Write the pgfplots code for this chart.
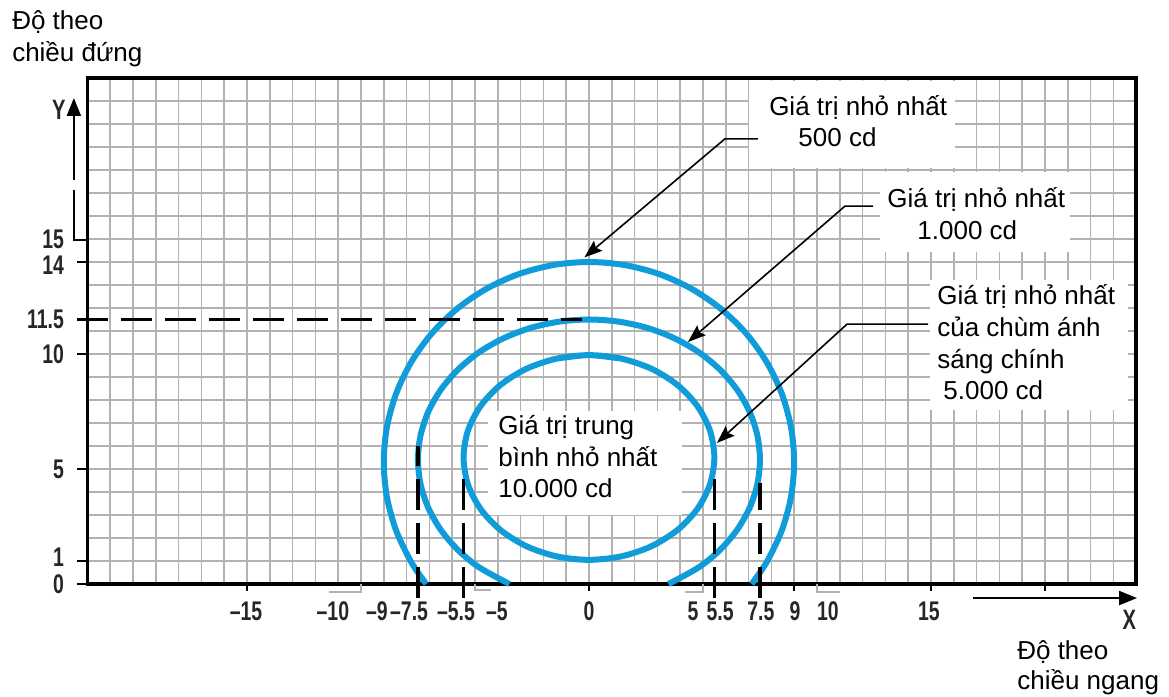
\documentclass[border=0pt]{standalone}
\usepackage{fontspec}
\setmainfont{Liberation Sans}
\newfontfamily\tickfont[FakeStretch=0.72]{Liberation Sans}
\usepackage{pgfplots}
\pgfplotsset{compat=1.18}
\usetikzlibrary{arrows.meta}
\definecolor{curveblue}{RGB}{16,156,216}
\definecolor{gridgray}{RGB}{178,178,178}
\begin{document}
\begin{tikzpicture}
\begin{axis}[
  x=11.4pt, y=11.5pt,
  xmin=-22, xmax=24, ymin=0, ymax=22,
  clip=false,
  axis line style={line width=1.8pt, black},
  xtick={-15.04,-11.23,-9.30,-7.89,-5.83,-4.04,0,4.56,5.75,7.54,9.04,10.48,14.91},
  xticklabels={–15,–10,–9,–7.5,–5.5,–5,0,5,5.5,7.5,9,10,15},
  ytick={0,1.15,5,10,11.5,13.87,15},
  yticklabels={0,1,5,10,11.5,14,15},
  minor xtick={-22,-21,...,24},
  minor ytick={0,1,...,22},
  grid=minor,
  minor grid style={gridgray, line width=0.8pt},
  major tick length=0pt, minor tick length=0pt,
  tick label style={font=\tickfont\bfseries\fontsize{13.5}{15}\selectfont, inner sep=0pt, text=black!85},
  xticklabel style={anchor=base, yshift=-18pt},
  yticklabel style={anchor=east, xshift=-11.5pt},
]
% bounding box of the whole picture
\path (axis cs:-25.83,25.39) rectangle (axis cs:25.44,-4.91);

% white label boxes
\fill[white] (axis cs:7.0,18.1) rectangle (axis cs:16.05,21.85);
\fill[white] (axis cs:12.76,14.43) rectangle (axis cs:21.1,17.9);
\fill[white] (axis cs:14.96,7.57) rectangle (axis cs:23.64,13.2);
\fill[white] (axis cs:-4.43,3.0) rectangle (axis cs:4.08,7.5);

% 500 cd (outer)
\addplot[mark=none, smooth, curveblue, line width=3pt] coordinates {
(-7.137,0) (-7.794,0.95) (-8.457,2.325) (-8.863,3.790) (-9,5.3) (-8.863,6.810) (-8.457,8.275) (-7.794,9.65) (-6.894,10.892) (-5.785,11.964) (-4.5,12.834) (-3.078,13.475) (-1.563,13.868) (0,14) (1.563,13.868) (3.078,13.475) (4.5,12.834) (5.785,11.964) (6.894,10.892) (7.794,9.65) (8.457,8.275) (8.863,6.810) (9,5.3) (8.863,3.790) (8.457,2.325) (7.794,0.95) (7.137,0)};
% 1000 cd (middle)
\addplot[mark=none, smooth, curveblue, line width=3pt] coordinates {
(-3.487,0) (-4.821,0.727) (-5.745,1.479) (-6.495,2.35) (-7.048,3.314) (-7.386,4.341) (-7.5,5.4) (-7.386,6.459) (-7.048,7.486) (-6.495,8.45) (-5.745,9.321) (-4.821,10.073) (-3.75,10.683) (-2.565,11.132) (-1.302,11.407) (0,11.5) (1.302,11.407) (2.565,11.132) (3.75,10.683) (4.821,10.073) (5.745,9.321) (6.495,8.45) (7.048,7.486) (7.386,6.459) (7.5,5.4) (7.386,4.341) (7.048,3.314) (6.495,2.35) (5.745,1.479) (4.821,0.727) (3.487,0)};
% 5000 cd (inner, closed)
\addplot[mark=none, smooth, curveblue, line width=3pt] coordinates {
(-1.424,9.798) (0,9.95) (1.424,9.798) (2.75,9.354) (3.889,8.647) (4.763,7.725) (5.313,6.652) (5.5,5.5) (5.313,4.348) (4.763,3.275) (3.889,2.353) (2.75,1.646) (1.424,1.202) (0,1.05) (-1.424,1.202) (-2.75,1.646) (-3.889,2.353) (-4.763,3.275) (-5.313,4.348) (-5.5,5.5) (-5.313,6.652) (-4.763,7.725) (-3.889,8.647) (-2.75,9.354) (-1.424,9.798) (0,9.95) (1.424,9.798)};

% dashed reference lines (drawn over the curves)
\addplot[mark=none, black, line width=1.8pt, dash pattern=on 15.5pt off 6.5pt] coordinates {(-22.45,11.5) (-0.3,11.5)};
\addplot[mark=none, black, line width=1.8pt, dash pattern=on 15.5pt off 6.5pt] coordinates {(-7.5,-0.6) (-7.5,6.0)};
\addplot[mark=none, black, line width=1.8pt, dash pattern=on 15.5pt off 6.5pt] coordinates {(-5.5,-0.6) (-5.5,4.65)};
\addplot[mark=none, black, line width=1.8pt, dash pattern=on 15.5pt off 6.5pt] coordinates {(5.5,-0.6) (5.5,4.78)};
\addplot[mark=none, black, line width=1.8pt, dash pattern=on 15.5pt off 6.5pt] coordinates {(7.5,-0.6) (7.5,4.4)};

% leader arrows
\draw[line width=0.8pt, -{Stealth[length=9pt,width=6.5pt,inset=1.5pt]}] (axis cs:7.41,19.35) -- (axis cs:5.96,19.35) -- (axis cs:-0.2,14.2);
\draw[line width=0.8pt, -{Stealth[length=9pt,width=6.5pt,inset=1.5pt]}] (axis cs:12.46,16.43) -- (axis cs:11.23,16.43) -- (axis cs:4.34,10.52);
\draw[line width=0.8pt, -{Stealth[length=9pt,width=6.5pt,inset=1.5pt]}] (axis cs:14.87,11.30) -- (axis cs:11.32,11.30) -- (axis cs:5.61,6.13);

% y-axis stubs and arrow
\draw[line width=1pt] (axis cs:-22,0) -- (axis cs:-22.45,0);
\draw[line width=1pt] (axis cs:-22,1) -- (axis cs:-22.45,1);
\draw[line width=1pt] (axis cs:-22,5) -- (axis cs:-22.45,5);
\draw[line width=1pt] (axis cs:-22,10) -- (axis cs:-22.45,10);
\draw[line width=1pt] (axis cs:-22,14) -- (axis cs:-22.45,14);
\draw[line width=1pt] (axis cs:-22,14.96) -- (axis cs:-22.59,14.96) -- (axis cs:-22.59,17.13);
\draw[line width=1pt, -{Triangle[length=9pt,width=7pt]}] (axis cs:-22.59,17.57) -- (axis cs:-22.59,21.13);
\node[font=\tickfont\bfseries\fontsize{14}{16}\selectfont, inner sep=0pt, text=black!85] at (axis cs:-23.25,20.6) {Y};

% x-axis stubs, brackets and arrow
\draw[line width=1pt] (axis cs:-15,0) -- (axis cs:-15,-0.3);
\draw[line width=1pt] (axis cs:0,0) -- (axis cs:0,-0.3);
\draw[line width=1pt] (axis cs:9,0) -- (axis cs:9,-0.3);
\draw[line width=1pt] (axis cs:15,0) -- (axis cs:15,-0.3);
\draw[line width=1pt] (axis cs:20,0) -- (axis cs:20,-0.3);
\draw[gridgray, line width=0.8pt] (axis cs:-11.4,-0.35) -- (axis cs:-10,-0.35) -- (axis cs:-10,0);
\draw[gridgray, line width=0.8pt] (axis cs:-5,0) -- (axis cs:-5,-0.25) -- (axis cs:-4.3,-0.25);
\draw[gridgray, line width=0.8pt] (axis cs:4.2,-0.35) -- (axis cs:5,-0.35) -- (axis cs:5,0);
\draw[gridgray, line width=0.8pt] (axis cs:10,0) -- (axis cs:10,-0.35) -- (axis cs:11,-0.35);
\draw[line width=1pt, -{Triangle[length=9pt,width=7pt]}] (axis cs:16.84,-0.61) -- (axis cs:24.04,-0.61);
\node[font=\tickfont\bfseries\fontsize{14}{16}\selectfont, inner sep=0pt, text=black!85] at (axis cs:23.7,-1.57) {X};

% texts
\begin{scope}[every node/.style={anchor=base west, inner sep=0pt, font=\fontsize{13}{15.6}\selectfont}]
\node at (axis cs:-25.31,24.09) {Độ theo};
\node at (axis cs:-25.31,22.70) {chiều đứng};
\node at (axis cs:18.77,-3.30) {Độ theo};
\node at (axis cs:18.77,-4.57) {chiều ngang};
\node at (axis cs:7.89,20.39) {Giá trị nhỏ nhất};
\node at (axis cs:9.17,19.00) {500 cd};
\node at (axis cs:13.07,16.35) {Giá trị nhỏ nhất};
\node at (axis cs:14.39,14.96) {1.000 cd};
\node at (axis cs:15.26,12.13) {Giá trị nhỏ nhất};
\node at (axis cs:15.26,10.78) {của chùm ánh};
\node at (axis cs:15.26,9.39) {sáng chính};
\node at (axis cs:15.53,8.04) {5.000 cd};
\node at (axis cs:-3.99,6.48) {Giá trị trung};
\node at (axis cs:-3.99,5.09) {bình nhỏ nhất};
\node at (axis cs:-3.99,3.78) {10.000 cd};
\end{scope}
\end{axis}
\end{tikzpicture}
\end{document}
